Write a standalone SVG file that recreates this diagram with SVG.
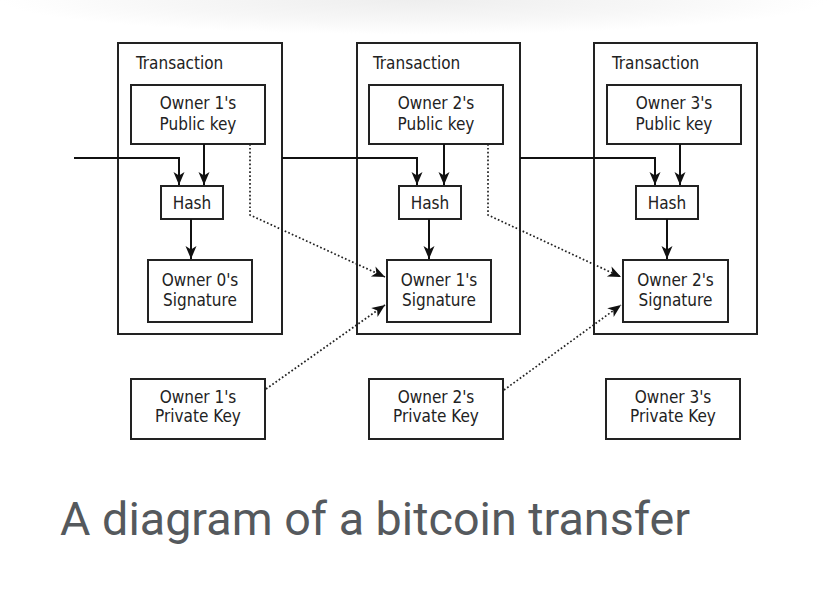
<svg xmlns="http://www.w3.org/2000/svg" width="828" height="595" viewBox="0 0 828 595">
<defs>
<radialGradient id="shade" cx="0.5" cy="0" r="0.5" gradientTransform="translate(0,0) scale(1,0.3)">
<stop offset="0" stop-color="#eeeeee"/>
<stop offset="0.6" stop-color="#f7f7f7"/>
<stop offset="1" stop-color="#ffffff"/>
</radialGradient>
<marker id="arr" markerUnits="userSpaceOnUse" markerWidth="16" markerHeight="14" viewBox="-14 -7 16 14" refX="0" refY="0" orient="auto">
<path d="M0,0 L-13,-5.5 L-9.5,0 L-13,5.5 Z" fill="#111"/>
</marker>
</defs>
<style>
.box{fill:#fff;stroke:#222;stroke-width:2}
.frame{fill:none;stroke:#222;stroke-width:2}
.t{font-family:"DejaVu Sans Condensed","DejaVu Sans",sans-serif;font-size:17px;fill:#222;text-anchor:middle}
.tl{font-family:"DejaVu Sans Condensed","DejaVu Sans",sans-serif;font-size:17px;fill:#222}
.solid{fill:none;stroke:#111;stroke-width:2}
.dot{fill:none;stroke:#222;stroke-width:1.7;stroke-dasharray:1.7 2.2}
.cap{font-family:Roboto,"Liberation Sans",sans-serif;font-size:46px;fill:#55595d}
</style>
<rect width="828" height="595" fill="#fff"/>
<rect x="0" y="0" width="828" height="230" fill="url(#shade)"/>

<g id="tx1">
<rect class="frame" x="118" y="43" width="164" height="291"/>
<text class="tl" x="136" y="69">Transaction</text>
</g>
<g id="tx2">
<rect class="frame" x="357" y="43" width="163" height="291"/>
<text class="tl" x="373" y="69">Transaction</text>
</g>
<g id="tx3">
<rect class="frame" x="594" y="43" width="163" height="291"/>
<text class="tl" x="612" y="69">Transaction</text>
</g>

<g id="pub1"><rect class="box" x="131" y="85" width="134" height="59"/><text class="t" x="198" y="109">Owner 1's</text><text class="t" x="198" y="130">Public key</text></g>
<g id="pub2"><rect class="box" x="369" y="85" width="134" height="59"/><text class="t" x="436" y="109">Owner 2's</text><text class="t" x="436" y="130">Public key</text></g>
<g id="pub3"><rect class="box" x="607" y="85" width="134" height="59"/><text class="t" x="674" y="109">Owner 3's</text><text class="t" x="674" y="130">Public key</text></g>

<g id="hash1"><rect class="box" x="161" y="186" width="62" height="33"/><text class="t" x="192" y="209">Hash</text></g>
<g id="hash2"><rect class="box" x="399" y="186" width="62" height="33"/><text class="t" x="430" y="209">Hash</text></g>
<g id="hash3"><rect class="box" x="636" y="186" width="62" height="33"/><text class="t" x="667" y="209">Hash</text></g>

<g id="sig1"><rect class="box" x="148" y="260" width="104" height="62"/><text class="t" x="200" y="286">Owner 0's</text><text class="t" x="200" y="306">Signature</text></g>
<g id="sig2"><rect class="box" x="387" y="260" width="104" height="62"/><text class="t" x="439" y="286">Owner 1's</text><text class="t" x="439" y="306">Signature</text></g>
<g id="sig3"><rect class="box" x="623" y="260" width="105" height="62"/><text class="t" x="675.5" y="286">Owner 2's</text><text class="t" x="675.5" y="306">Signature</text></g>

<g id="priv1"><rect class="box" x="131" y="379" width="134" height="60"/><text class="t" x="198" y="403">Owner 1's</text><text class="t" x="198" y="422">Private Key</text></g>
<g id="priv2"><rect class="box" x="369" y="379" width="134" height="60"/><text class="t" x="436" y="403">Owner 2's</text><text class="t" x="436" y="422">Private Key</text></g>
<g id="priv3"><rect class="box" x="606" y="379" width="134" height="60"/><text class="t" x="673" y="403">Owner 3's</text><text class="t" x="673" y="422">Private Key</text></g>

<g id="connectors">
<path class="solid" d="M74,158 H179 V185" marker-end="url(#arr)"/>
<path class="solid" d="M204,144 V185" marker-end="url(#arr)"/>
<path class="solid" d="M191,219 V259" marker-end="url(#arr)"/>
<path class="solid" d="M282,158 H417 V185" marker-end="url(#arr)"/>
<path class="solid" d="M444,144 V185" marker-end="url(#arr)"/>
<path class="solid" d="M429,219 V259" marker-end="url(#arr)"/>
<path class="solid" d="M520,158 H655 V185" marker-end="url(#arr)"/>
<path class="solid" d="M680,144 V185" marker-end="url(#arr)"/>
<path class="solid" d="M667,219 V259" marker-end="url(#arr)"/>
<path class="dot" d="M250,144 V215 L385,277" marker-end="url(#arr)"/>
<path class="dot" d="M488,144 V215 L621,277" marker-end="url(#arr)"/>
<path class="dot" d="M266,389 L385,305" marker-end="url(#arr)"/>
<path class="dot" d="M504,390 L621,305" marker-end="url(#arr)"/>
</g>

<text class="cap" x="60" y="535" textLength="630" lengthAdjust="spacingAndGlyphs">A diagram of a bitcoin transfer</text>
</svg>
